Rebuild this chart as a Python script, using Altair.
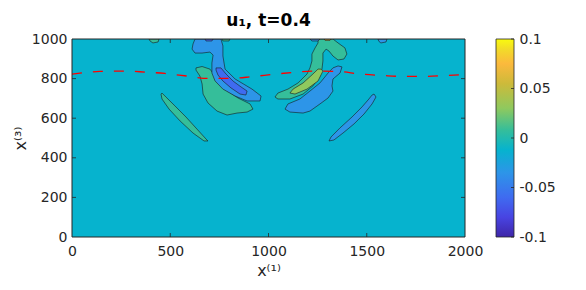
import altair as alt
import pandas as pd

# ---------------- axis / colorbar ticks ----------------
X_TICKS = [0, 500, 1000, 1500, 2000]
Y_TICKS = [0, 200, 400, 600, 800, 1000]
CBAR_TICKS = [-0.1, -0.05, 0, 0.05, 0.1]

# colormap stops (parula-like), value -> colour
CMAP_VALUES = [-0.1, -0.08, -0.06, -0.035, -0.012, 0.008, 0.03, 0.055, 0.075, 0.09, 0.1]
CMAP_COLORS = ["#3E26A8", "#4844E2", "#3F6BF0", "#2D95E8", "#06B3CE", "#35BE9A",
               "#8FC95E", "#CDBA3A", "#FBB93D", "#F2DC28", "#F9FB0E"]

# band values of the filled contours
BG_LEVEL = -0.012
GREEN_LEVEL = 0.008
LIGHTGREEN_LEVEL = 0.03
BLUE_LEVEL = -0.035
DARKBLUE_LEVEL = -0.06
BROWN_LEVEL = 0.062

# ---------------- contour regions (x(1), x(3)) ----------------
# left, thin positive sliver
L_SLIVER_X = [458, 478, 524, 580, 636, 682, 692, 672, 616, 550, 494, 458, 453]
L_SLIVER_Y = [727, 707, 662, 606, 545, 495, 485, 485, 525, 586, 646, 697, 722]
# left positive blob
L_BLOB_X = [631, 662, 702, 728, 768, 845, 906, 921, 891, 840, 789, 738, 692, 667, 662, 651, 631]
L_BLOB_Y = [854, 861, 848, 813, 753, 702, 672, 646, 631, 626, 616, 636, 677, 722, 773, 813, 843]
# left negative ribbon
L_RIBBON_X = [626, 758, 768, 768, 779, 830, 916, 962, 957, 891, 830, 768, 728, 712, 712, 718, 702, 662, 626, 611, 616]
L_RIBBON_Y = [1000, 1000, 965, 914, 848, 798, 747, 712, 687, 687, 712, 747, 788, 828, 879, 919, 934, 929, 929, 949, 975]
# left strongly negative core
L_CORE_X = [733, 758, 784, 819, 860, 891, 885, 855, 809, 768, 743, 733]
L_CORE_Y = [854, 854, 823, 788, 758, 737, 717, 722, 753, 788, 818, 843]
# small patches at the top boundary (left)
L_TOP1_X = [392, 443, 438, 412, 397]
L_TOP1_Y = [1000, 1000, 985, 980, 990]
L_TOP2_X = [677, 718, 712, 682]
L_TOP2_Y = [1000, 1000, 990, 990]
L_TOP3_X = [763, 804, 799, 768]
L_TOP3_Y = [1000, 1000, 990, 990]

# right, thin negative sliver
R_SLIVER_X = [1537, 1547, 1527, 1486, 1435, 1379, 1333, 1308, 1318, 1364, 1425, 1476, 1511, 1527]
R_SLIVER_Y = [722, 707, 672, 621, 571, 525, 490, 485, 505, 551, 606, 657, 697, 717]
# right negative blob
R_BLOB_X = [1328, 1354, 1374, 1364, 1328, 1323, 1328, 1303, 1262, 1211, 1176, 1109, 1084, 1099, 1160, 1211, 1262, 1303]
R_BLOB_Y = [854, 864, 859, 828, 798, 763, 737, 702, 672, 636, 626, 631, 646, 672, 697, 737, 778, 828]
# right positive ribbon
R_RIBBON_X = [1262, 1328, 1354, 1389, 1399, 1384, 1354, 1328, 1308, 1293, 1277, 1277, 1272, 1262, 1226,
              1176, 1109, 1048, 1033, 1048, 1099, 1150, 1196, 1211, 1221, 1221, 1237, 1252, 1252]
R_RIBBON_Y = [1000, 1000, 980, 955, 924, 899, 894, 914, 939, 949, 929, 889, 848, 813, 763,
              722, 697, 697, 707, 727, 747, 778, 823, 854, 889, 924, 955, 980, 1000]
# right strongly positive core
R_CORE_X = [1267, 1277, 1252, 1196, 1135, 1109, 1125, 1176, 1226, 1252]
R_CORE_Y = [848, 838, 788, 747, 722, 727, 747, 778, 823, 848]
# small patches at the top boundary (right)
R_TOP1_X = [1211, 1262, 1252, 1221]
R_TOP1_Y = [1000, 1000, 990, 990]
R_TOP2_X = [1283, 1318, 1313, 1288]
R_TOP2_Y = [1000, 1000, 993, 993]
R_TOP3_X = [1557, 1603, 1598, 1572, 1562]
R_TOP3_Y = [1000, 1000, 985, 980, 988]

# red dashed interface line
RED_X = [0, 142, 270, 371, 473, 585, 692, 804, 916, 1028, 1135, 1247, 1354, 1466, 1578, 1684, 1796, 1908, 2000]
RED_Y = [823, 836, 838, 833, 826, 813, 801, 801, 810, 822, 832, 838, 836, 823, 816, 811, 811, 816, 821]


def poly_table(items):
    rows = []
    for pid, (xs, ys, lev) in enumerate(items):
        for i, (x, y) in enumerate(zip(xs, ys)):
            rows.append({"pid": pid, "i": i, "x": x, "y": y, "level": lev})
    return pd.DataFrame(rows)


layer1 = poly_table([
    (L_SLIVER_X, L_SLIVER_Y, GREEN_LEVEL),
    (L_BLOB_X, L_BLOB_Y, GREEN_LEVEL),
    (R_RIBBON_X, R_RIBBON_Y, GREEN_LEVEL),
    (R_SLIVER_X, R_SLIVER_Y, BLUE_LEVEL),
])
layer2 = poly_table([
    (L_RIBBON_X, L_RIBBON_Y, BLUE_LEVEL),
    (R_BLOB_X, R_BLOB_Y, BLUE_LEVEL),
])
layer3 = poly_table([
    (L_CORE_X, L_CORE_Y, DARKBLUE_LEVEL),
    (R_CORE_X, R_CORE_Y, LIGHTGREEN_LEVEL),
    (L_TOP1_X, L_TOP1_Y, GREEN_LEVEL),
    (L_TOP2_X, L_TOP2_Y, DARKBLUE_LEVEL),
    (L_TOP3_X, L_TOP3_Y, GREEN_LEVEL),
    (R_TOP1_X, R_TOP1_Y, BLUE_LEVEL),
    (R_TOP2_X, R_TOP2_Y, BROWN_LEVEL),
    (R_TOP3_X, R_TOP3_Y, BLUE_LEVEL),
])

bg = pd.DataFrame({"x": [0], "x2": [2000], "y": [0], "y2": [1000], "level": [BG_LEVEL]})
red = pd.DataFrame({"x": RED_X, "y": RED_Y})
xt = pd.DataFrame({"x": X_TICKS[1:-1]})
yt = pd.DataFrame({"y": Y_TICKS[1:-1]})
cbt = pd.DataFrame({"v": CBAR_TICKS})

FONT = "DejaVu Sans"
TXT = "#262626"
W, H = 393, 198
CB_GAP, CB_W = 31, 18

xscale = alt.Scale(domain=[0, 2000], nice=False, zero=False)
yscale = alt.Scale(domain=[0, 1000], nice=False, zero=False)
cscale = alt.Scale(domain=CMAP_VALUES, range=CMAP_COLORS, type="linear", interpolate="rgb")
color = alt.Color("level:Q", scale=cscale, legend=None)

xaxis = alt.Axis(values=X_TICKS, title="x\u207d\u00b9\u207e", format="d",
                 labelOverlap=False, labelFlush=False, labelPadding=7)
yaxis = alt.Axis(values=Y_TICKS, title="x\u207d\u00b3\u207e", format="d",
                 labelOverlap=False, labelFlush=False, labelPadding=5)
xenc = alt.X("x:Q", scale=xscale, axis=xaxis)
yenc = alt.Y("y:Q", scale=yscale, axis=yaxis)

background = alt.Chart(bg).mark_rect(strokeWidth=0).encode(
    x=xenc, x2="x2:Q", y=yenc, y2="y2:Q", color=color)


def polys(df):
    return alt.Chart(df).mark_line(
        filled=True, interpolate="linear-closed", stroke="#1a1a1a", strokeWidth=0.6, clip=True
    ).encode(x=xenc, y=yenc, detail="pid:N", order="i:Q", color=color)


redline = alt.Chart(red).mark_line(
    color="#FF0000", strokeDash=[10, 11], strokeWidth=1.3, interpolate="monotone"
).encode(x=xenc, y=yenc)

tick_b = alt.Chart(xt).mark_rule(color=TXT, strokeWidth=0.8).encode(
    x=xenc, y=alt.value(H), y2=alt.value(H - 4))
tick_t = alt.Chart(xt).mark_rule(color=TXT, strokeWidth=0.8).encode(
    x=xenc, y=alt.value(0), y2=alt.value(4))
tick_l = alt.Chart(yt).mark_rule(color=TXT, strokeWidth=0.8).encode(
    y=yenc, x=alt.value(0), x2=alt.value(4))
tick_r = alt.Chart(yt).mark_rule(color=TXT, strokeWidth=0.8).encode(
    y=yenc, x=alt.value(W), x2=alt.value(W - 4))
box = alt.Chart(bg).mark_rect(fillOpacity=0, stroke=TXT, strokeWidth=1).encode(
    x=alt.value(0), x2=alt.value(W), y=alt.value(0), y2=alt.value(H))

main = alt.layer(background, polys(layer1), polys(layer2), polys(layer3), redline,
                 tick_b, tick_t, tick_l, tick_r, box)

# ---------------- colour bar ----------------
span = CMAP_VALUES[-1] - CMAP_VALUES[0]
stops = [alt.GradientStop(offset=(v - CMAP_VALUES[0]) / span, color=c)
         for v, c in zip(CMAP_VALUES, CMAP_COLORS)]
cbar = alt.Chart(bg).mark_rect(
    fill=alt.LinearGradient(gradient="linear", stops=stops, x1=0, x2=0, y1=1, y2=0),
    stroke=TXT, strokeWidth=0.8,
).encode(x=alt.value(W + CB_GAP), x2=alt.value(W + CB_GAP + CB_W),
         y=alt.value(0), y2=alt.value(H))
cbar_ticks = alt.Chart(cbt).mark_rule(color=TXT, strokeWidth=0.8).encode(
    y=alt.Y("v:Q", scale=alt.Scale(domain=[-0.1, 0.1], nice=False, zero=False),
            axis=alt.Axis(orient="right", offset=CB_GAP + CB_W, values=CBAR_TICKS, format="~g",
                          labelExpr="replace(datum.label, '\u2212', '-')", title=None,
                          labelOverlap=False, labelFlush=False, labelPadding=5)),
    x=alt.value(W + CB_GAP + CB_W - 3), x2=alt.value(W + CB_GAP + CB_W),
)

chart = alt.layer(main, cbar, cbar_ticks).resolve_scale(y="independent").properties(
    width=W, height=H,
    title=alt.TitleParams(text="u\u2081, t=0.4", fontSize=17, fontWeight="bold", font=FONT,
                          color="#000000", anchor="middle", frame="group", offset=2),
    autosize=alt.AutoSizeParams(type="none"),
    padding={"left": 64, "top": 31, "right": 113, "bottom": 45},
).configure_view(stroke=None).configure_axis(
    domain=False, ticks=False, grid=False, labelFont=FONT, labelFontSize=14, labelColor=TXT,
    titleFont=FONT, titleFontSize=16, titleFontWeight="normal", titleColor=TXT,
).configure_axisX(titlePadding=4).configure_axisY(titlePadding=3)

chart.save("out.html", embed_options={"renderer": "svg", "actions": False})
